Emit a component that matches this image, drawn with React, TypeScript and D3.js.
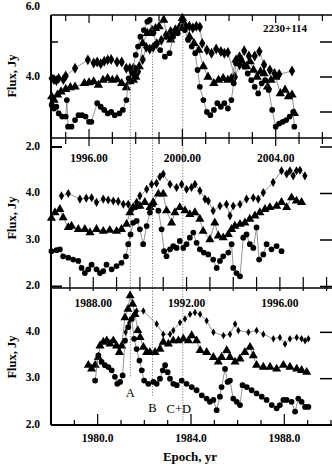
import React from 'react';
import * as d3 from 'd3';

// epoch (yr), flux (Jy)
const p1Diamonds: [number, number][] = [
  [1994.4, 3.96], [1994.5, 3.93], [1994.6, 3.9], [1994.7, 3.96], [1994.9, 3.93], [1995.0, 4.03],
  [1995.4, 4.25], [1995.95, 4.49], [1996.2, 4.4], [1996.35, 4.43], [1996.5, 4.38], [1996.65, 4.45],
  [1996.8, 4.49], [1996.95, 4.5], [1997.2, 4.43], [1997.4, 4.43], [1997.6, 4.25], [1997.75, 4.25],
  [1997.9, 4.25], [1998.0, 4.2], [1998.1, 4.15], [1998.3, 4.5], [1998.45, 4.85], [1998.6, 4.8],
  [1998.75, 4.85], [1998.9, 4.95], [1999.1, 5.05], [1999.3, 5.2], [1999.5, 5.3], [1999.7, 5.35],
  [1999.9, 5.45], [2000.1, 5.5], [2000.3, 5.45], [2000.45, 5.4], [2000.6, 5.45], [2000.75, 5.43],
  [2000.85, 4.96], [2001.05, 4.77], [2001.25, 4.68], [2001.45, 4.8], [2001.65, 4.73], [2001.8, 4.68],
  [2001.95, 4.7], [2002.25, 4.0], [2002.45, 4.35], [2002.65, 4.75], [2002.85, 4.6], [2003.1, 4.6],
  [2003.3, 4.73], [2003.5, 4.35], [2003.75, 4.2], [2003.95, 4.1], [2004.15, 4.08], [2004.7, 4.17],
];
const p1Triangles: [number, number][] = [
  [1994.4, 3.44], [1994.5, 3.34], [1994.65, 3.49], [1994.8, 3.58], [1995.0, 3.65], [1995.2, 3.7],
  [1995.4, 3.72], [1995.8, 3.82], [1996.0, 3.84], [1996.2, 3.87], [1996.4, 3.77], [1996.6, 3.91],
  [1996.8, 3.96], [1997.0, 3.91], [1997.2, 3.93], [1997.4, 3.82], [1997.6, 3.7], [1997.75, 3.87],
  [1997.9, 3.91], [1998.0, 4.0], [1998.15, 4.3], [1998.3, 4.96], [1998.5, 5.25], [1998.7, 5.34],
  [1998.85, 5.39], [1999.0, 5.44], [1999.2, 5.63], [1999.35, 5.15], [1999.5, 5.06], [1999.7, 5.3],
  [1999.85, 5.39], [2000.0, 5.68], [2000.15, 5.44], [2000.3, 5.15], [2000.5, 4.96], [2000.7, 4.77],
  [2000.9, 4.3], [2001.1, 4.0], [2001.35, 3.82], [2001.55, 3.91], [2001.75, 3.96], [2001.95, 3.91],
  [2002.1, 3.96], [2002.3, 4.49], [2002.45, 4.58], [2002.6, 4.39], [2002.75, 4.3], [2002.9, 4.44],
  [2003.05, 4.2], [2003.2, 4.0], [2003.35, 4.15], [2003.5, 4.1], [2003.65, 3.72], [2003.8, 3.91],
  [2004.0, 4.0], [2004.2, 3.53], [2004.4, 3.63], [2004.55, 3.44], [2004.7, 3.49], [2004.8, 2.96],
];
const p1Circles: [number, number][] = [
  [1994.4, 3.2], [1994.5, 3.1], [1994.6, 3.15], [1994.7, 2.96], [1994.85, 2.87], [1995.0, 2.87],
  [1995.05, 3.34], [1995.1, 2.58], [1995.25, 2.58], [1995.4, 2.77], [1995.55, 2.91], [1995.7, 2.91],
  [1995.85, 2.87], [1996.0, 2.72], [1996.1, 2.72], [1996.35, 3.25], [1996.5, 3.15], [1996.65, 3.06],
  [1996.8, 2.96], [1996.95, 3.0], [1997.1, 2.91], [1997.3, 2.96], [1997.45, 3.06], [1997.6, 3.34],
  [1997.7, 3.96], [1997.85, 4.1], [1998.0, 4.63], [1998.1, 4.87], [1998.2, 5.15], [1998.35, 5.34],
  [1998.5, 5.58], [1998.6, 5.63], [1998.75, 5.25], [1998.9, 4.96], [1999.05, 4.77], [1999.25, 4.58],
  [1999.45, 4.68], [1999.6, 5.15], [1999.8, 5.25], [2000.0, 5.63], [2000.1, 5.34], [2000.25, 5.06],
  [2000.4, 4.87], [2000.55, 4.68], [2000.65, 4.2], [2000.75, 3.72], [2000.9, 3.34], [2001.05, 3.0],
  [2001.2, 2.91], [2001.35, 3.06], [2001.5, 3.25], [2001.65, 3.15], [2001.8, 3.25], [2001.95, 3.1],
  [2002.1, 3.34], [2002.2, 3.82], [2002.3, 4.39], [2002.5, 4.49], [2002.65, 4.3], [2002.8, 4.1],
  [2002.95, 3.91], [2003.1, 3.72], [2003.25, 3.53], [2003.4, 3.82], [2003.55, 3.91], [2003.7, 3.63],
  [2003.85, 3.06], [2004.0, 2.58], [2004.15, 2.67], [2004.3, 2.72], [2004.45, 2.77], [2004.6, 2.87],
  [2004.75, 3.0], [2004.8, 2.58],
];

const p2Diamonds: [number, number][] = [
  [1986.64, 3.95], [1986.93, 4.0], [1987.43, 3.88], [1987.7, 3.9], [1987.93, 3.91], [1988.14, 3.81],
  [1988.43, 3.88], [1988.64, 3.86], [1988.86, 3.84], [1989.07, 3.83], [1989.29, 3.77], [1989.5, 3.77],
  [1989.64, 3.66], [1989.72, 3.7], [1989.86, 3.81], [1990.0, 3.95], [1990.29, 4.09], [1990.5, 4.2],
  [1990.71, 4.22], [1990.86, 4.36], [1991.0, 4.42], [1991.29, 4.2], [1991.57, 4.13], [1991.79, 4.2],
  [1992.0, 4.09], [1992.21, 4.13], [1992.36, 4.2], [1992.57, 4.06], [1992.79, 3.88], [1992.93, 3.84],
  [1993.14, 3.63], [1993.43, 3.73], [1993.71, 3.77], [1993.86, 3.52], [1994.0, 3.73], [1994.29, 3.77],
  [1994.57, 3.88], [1994.86, 3.91], [1995.07, 3.88], [1995.29, 4.02], [1995.71, 4.24], [1996.07, 4.49],
  [1996.29, 4.42], [1996.43, 4.49], [1996.57, 4.38], [1996.71, 4.49], [1996.86, 4.5], [1997.07, 4.38],
];
const p2Triangles: [number, number][] = [
  [1986.21, 3.47], [1986.36, 3.59], [1986.57, 3.66], [1986.71, 3.48], [1986.93, 3.27], [1987.07, 3.3],
  [1987.36, 3.23], [1987.64, 3.23], [1987.86, 3.16], [1988.14, 3.23], [1988.43, 3.19], [1988.71, 3.21],
  [1989.0, 3.19], [1989.21, 3.23], [1989.43, 3.34], [1989.57, 3.59], [1989.71, 3.7], [1989.86, 3.73],
  [1990.0, 3.73], [1990.21, 3.81], [1990.43, 3.7], [1990.57, 3.81], [1990.79, 3.99], [1991.0, 3.99],
  [1991.14, 3.63], [1991.36, 3.37], [1991.5, 3.59], [1991.71, 3.7], [1991.93, 3.63], [1992.14, 3.55],
  [1992.36, 3.59], [1992.57, 3.45], [1992.71, 3.19], [1993.0, 3.01], [1993.21, 3.37], [1993.36, 3.09],
  [1993.57, 3.05], [1993.79, 3.12], [1993.93, 3.23], [1994.07, 3.3], [1994.29, 3.34], [1994.5, 3.37],
  [1994.71, 3.45], [1994.93, 3.52], [1995.14, 3.59], [1995.36, 3.66], [1995.57, 3.7], [1995.86, 3.73],
  [1996.07, 3.81], [1996.29, 3.7], [1996.5, 3.91], [1996.71, 3.84], [1996.93, 3.81],
];
const p2Circles: [number, number][] = [
  [1986.21, 2.76], [1986.43, 2.78], [1986.57, 2.8], [1986.71, 2.65], [1986.93, 2.62], [1987.14, 2.58],
  [1987.36, 2.55], [1987.5, 2.4], [1987.64, 2.29], [1987.79, 2.37], [1987.93, 2.47], [1988.14, 2.37],
  [1988.29, 2.29], [1988.43, 2.33], [1988.57, 2.47], [1988.79, 2.37], [1989.0, 2.44], [1989.21, 2.51],
  [1989.4, 2.65], [1989.5, 2.91], [1989.6, 3.12], [1989.71, 3.37], [1989.86, 3.41], [1990.0, 3.23],
  [1990.14, 2.91], [1990.29, 3.3], [1990.43, 3.59], [1990.57, 3.77], [1990.79, 3.63], [1990.93, 3.23],
  [1991.04, 2.76], [1991.14, 2.65], [1991.29, 2.8], [1991.43, 2.87], [1991.57, 2.83], [1991.71, 2.98],
  [1991.86, 2.83], [1992.0, 2.91], [1992.14, 3.05], [1992.29, 3.16], [1992.43, 2.94], [1992.57, 2.8],
  [1992.74, 2.73], [1992.93, 2.69], [1993.14, 2.58], [1993.29, 2.4], [1993.43, 2.55], [1993.57, 2.65],
  [1993.79, 2.73], [1993.93, 2.91], [1994.0, 2.4], [1994.14, 2.29], [1994.29, 2.22], [1994.43, 3.05],
  [1994.57, 3.12], [1994.71, 2.91], [1994.86, 2.83], [1995.0, 3.27], [1995.11, 2.58], [1995.29, 2.69],
  [1995.43, 2.91], [1995.64, 2.8], [1995.86, 2.87], [1996.07, 2.76],
];

const p3Diamonds: [number, number][] = [
  [1981.2, 4.0], [1981.35, 4.2], [1981.53, 4.36], [1981.67, 4.46], [1981.96, 4.46], [1982.53, 4.18],
  [1982.81, 3.96], [1983.1, 3.96], [1983.24, 4.04], [1983.53, 4.21], [1983.74, 4.29], [1983.96, 4.39],
  [1984.17, 4.43], [1984.39, 4.39], [1984.67, 4.25], [1984.96, 4.0], [1985.39, 3.93], [1985.67, 3.96],
  [1985.89, 4.18], [1986.03, 4.04], [1986.46, 4.0], [1986.81, 4.04], [1987.1, 3.96], [1987.53, 3.86],
  [1987.81, 3.89], [1988.03, 3.75], [1988.24, 3.86], [1988.53, 3.89], [1988.74, 3.86], [1988.89, 3.82],
  [1989.03, 3.86],
];
const p3Triangles: [number, number][] = [
  [1979.6, 3.29], [1979.74, 3.21], [1979.89, 3.29], [1980.03, 3.46], [1980.1, 3.71], [1980.24, 3.79],
  [1980.39, 3.82], [1980.53, 3.75], [1980.67, 3.82], [1980.81, 3.71], [1980.93, 3.57], [1981.03, 3.71],
  [1981.17, 4.32], [1981.3, 4.5], [1981.39, 4.79], [1981.5, 4.61], [1981.6, 4.39], [1981.72, 4.04],
  [1981.82, 3.89], [1981.96, 3.68], [1982.1, 3.57], [1982.24, 3.57], [1982.46, 3.57], [1982.67, 3.64],
  [1982.81, 3.79], [1983.03, 3.75], [1983.24, 3.82], [1983.46, 3.82], [1983.67, 3.86], [1983.89, 3.82],
  [1984.03, 3.93], [1984.24, 3.82], [1984.39, 3.61], [1984.67, 3.57], [1984.96, 3.46], [1985.17, 3.36],
  [1985.31, 3.46], [1985.53, 3.61], [1985.67, 3.46], [1985.89, 3.36], [1986.1, 3.43], [1986.31, 3.57],
  [1986.53, 3.68], [1986.67, 3.5], [1986.81, 3.29], [1987.1, 3.25], [1987.39, 3.25], [1987.67, 3.21],
  [1987.96, 3.29], [1988.24, 3.25], [1988.53, 3.21], [1988.74, 3.18], [1988.96, 3.14],
];
const p3Circles: [number, number][] = [
  [1979.89, 2.96], [1980.03, 3.5], [1980.17, 3.36], [1980.31, 3.29], [1980.46, 3.25], [1980.6, 3.18],
  [1980.74, 3.04], [1980.84, 2.89], [1980.96, 2.93], [1981.07, 3.07], [1981.17, 3.82], [1981.31, 4.11],
  [1981.46, 4.29], [1981.56, 3.86], [1981.67, 3.64], [1981.79, 3.39], [1981.89, 3.18], [1981.99, 2.96],
  [1982.17, 2.89], [1982.39, 2.93], [1982.53, 2.89], [1982.67, 3.0], [1982.79, 3.18], [1982.89, 3.29],
  [1983.0, 3.14], [1983.1, 3.0], [1983.24, 2.89], [1983.39, 2.86], [1983.6, 2.96], [1983.81, 2.89],
  [1984.03, 2.82], [1984.24, 2.75], [1984.46, 2.64], [1984.67, 2.57], [1984.81, 2.5], [1984.96, 2.54],
  [1985.1, 2.32], [1985.24, 2.61], [1985.31, 2.82], [1985.46, 3.21], [1985.57, 2.93], [1985.67, 2.96],
  [1985.81, 2.57], [1985.96, 2.5], [1986.1, 2.43], [1986.21, 2.86], [1986.39, 2.82], [1986.6, 2.75],
  [1986.81, 2.68], [1987.03, 2.61], [1987.24, 2.54], [1987.46, 2.43], [1987.67, 2.36], [1987.81, 2.43],
  [1987.96, 2.54], [1988.1, 2.54], [1988.31, 2.5], [1988.46, 2.29], [1988.6, 2.57], [1988.74, 2.5],
  [1988.89, 2.39], [1989.03, 2.39],
];

const p1XLabels = [1996, 2000, 2004];
const p2XLabels = [1988, 1992, 1996];
const p3XLabels = [1980, 1984, 1988];
const sourceName = '2230+114';
const flareNames = ['A', 'B', 'C+D'];
const flareEpochs = [1981.4, 1982.35, 1983.65]; // on the 1978-1990 scale

const FONT = '"Liberation Serif", "DejaVu Serif", serif';
const L = 51;
const R = 331;

const x1 = d3.scaleLinear().domain([1994.37, 2006.37]).range([L, R]);
const y1 = d3.scaleLinear().domain([2, 6]).range([147, 7]);
const x2 = d3.scaleLinear().domain([1986.19, 1998.19]).range([L, R]);
const y2 = d3.scaleLinear().domain([2, 5]).range([286.5, 147]);
const x3 = d3.scaleLinear().domain([1978, 1990]).range([L, R]);
const y3 = d3.scaleLinear().domain([2, 5]).range([425, 286]);

type Scale = d3.ScaleLinear<number, number>;

function Series({ data, x, y, shape, size }: { data: [number, number][]; x: Scale; y: Scale; shape: d3.SymbolType; size: number }) {
  const line = d3.line<[number, number]>().x((d) => x(d[0])).y((d) => y(d[1]));
  const sym = d3.symbol().type(shape).size(size)() || '';
  return (
    <g>
      <path d={line(data) || ''} fill="none" stroke="#666" strokeWidth={0.7} />
      {data.map((d, i) => (
        <path key={i} d={sym} transform={`translate(${x(d[0])},${y(d[1])})`} fill="#000" />
      ))}
    </g>
  );
}

function years(x: Scale) {
  const [a, b] = x.domain();
  return d3.range(Math.ceil(a), Math.floor(b) + 1);
}

export default function App() {
  const labelStyle = { fontFamily: FONT, fontWeight: 700, fontSize: 11.5 } as const;
  const yLab = (txt: string, yy: number, k: string) => (
    <text key={k} x={40} y={yy} textAnchor="end" dominantBaseline="middle" style={labelStyle}>{txt}</text>
  );
  const rightTick = (yy: number, k: string) => <line key={k} x1={320} x2={332} y1={yy} y2={yy} stroke="#000" strokeWidth={1.5} />;
  const leftTick2 = (yy: number, k: string) => <line key={k} x1={L} x2={62} y1={yy} y2={yy} stroke="#000" strokeWidth={2} />;

  return (
    <svg width={332} height={470} style={{ position: 'absolute', left: 0, top: 0, background: '#fff' }}>
      {/* flare lines */}
      {flareEpochs.map((e, i) => {
        const xx = x3(e);
        const tops = [y1(3.8), y1(4.69), y1(5.26)];
        const bots = [y3(3.04), y3(2.62), y3(2.1)];
        return <line key={i} x1={xx} x2={xx} y1={tops[i]} y2={bots[i]} stroke="#444" strokeWidth={0.7} strokeDasharray="1.2,1.6" />;
      })}

      {/* panel 1 */}
      <Series data={p1Diamonds} x={x1} y={y1} shape={d3.symbolDiamond} size={34} />
      <Series data={p1Triangles} x={x1} y={y1} shape={d3.symbolTriangle} size={38} />
      <Series data={p1Circles} x={x1} y={y1} shape={d3.symbolCircle} size={26} />
      {/* panel 2 */}
      <Series data={p2Diamonds} x={x2} y={y2} shape={d3.symbolDiamond} size={24} />
      <Series data={p2Triangles} x={x2} y={y2} shape={d3.symbolTriangle} size={36} />
      <Series data={p2Circles} x={x2} y={y2} shape={d3.symbolCircle} size={26} />
      {/* panel 3 */}
      <Series data={p3Diamonds} x={x3} y={y3} shape={d3.symbolDiamond} size={16} />
      <Series data={p3Triangles} x={x3} y={y3} shape={d3.symbolTriangle} size={36} />
      <Series data={p3Circles} x={x3} y={y3} shape={d3.symbolCircle} size={26} />

      {/* frame */}
      <line x1={L} x2={L} y1={15} y2={425} stroke="#000" strokeWidth={2} />
      <line x1={L} x2={332} y1={15} y2={15} stroke="#000" strokeWidth={1.5} />
      <line x1={L} x2={332} y1={138} y2={138} stroke="#000" strokeWidth={1.5} />
      <line x1={L} x2={332} y1={288} y2={288} stroke="#000" strokeWidth={1.5} />
      <line x1={L} x2={332} y1={425} y2={425} stroke="#000" strokeWidth={2} />

      {/* x ticks */}
      {years(x1).map((yr) => {
        const major = p1XLabels.includes(yr);
        return (
          <g key={`t1-${yr}`}>
            <line x1={x1(yr)} x2={x1(yr)} y1={15} y2={major ? 23 : 21} stroke="#000" strokeWidth={1.2} />
            <line x1={x1(yr)} x2={x1(yr)} y1={major ? 129 : 132} y2={major ? 146 : 144} stroke="#000" strokeWidth={1.2} />
          </g>
        );
      })}
      {years(x2).map((yr) => (
        <line key={`t2-${yr}`} x1={x2(yr)} x2={x2(yr)} y1={277} y2={291} stroke="#000" strokeWidth={1.2} />
      ))}
      {years(x3).map((yr) => {
        const major = p3XLabels.includes(yr);
        return <line key={`t3-${yr}`} x1={x3(yr)} x2={x3(yr)} y1={major ? 414 : 420} y2={425} stroke="#000" strokeWidth={1.2} />;
      })}

      {/* y ticks */}
      <line x1={L} x2={58} y1={y1(5)} y2={y1(5)} stroke="#000" strokeWidth={1.5} />
      {[y1(2), y2(2), y3(2)].map((yy, i) => leftTick2(yy, `l${i}`))}
      {[5, 4, 3, 2].map((v) => rightTick(y1(v), `r1${v}`))}
      {[4, 3, 2].map((v) => rightTick(y2(v), `r2${v}`))}
      {[4, 3].map((v) => rightTick(y3(v), `r3${v}`))}

      {/* y labels */}
      {[6, 4, 2].map((v) => yLab(v.toFixed(1), y1(v), `a${v}`))}
      {[4, 3, 2].map((v) => yLab(v.toFixed(1), y2(v), `b${v}`))}
      {[4, 3, 2].map((v) => yLab(v.toFixed(1), y3(v), `c${v}`))}

      {/* x labels */}
      {p1XLabels.map((v) => (
        <text key={`x1${v}`} x={x1(v)} y={162} textAnchor="middle" style={labelStyle}>{v.toFixed(2)}</text>
      ))}
      {p2XLabels.map((v) => (
        <text key={`x2${v}`} x={x2(v)} y={307} textAnchor="middle" style={labelStyle}>{v.toFixed(2)}</text>
      ))}
      {p3XLabels.map((v) => (
        <text key={`x3${v}`} x={x3(v)} y={442} textAnchor="middle" style={labelStyle}>{v.toFixed(1)}</text>
      ))}

      {/* axis titles */}
      {[76, 218, 357].map((cy, i) => (
        <text key={`ft${i}`} transform={`translate(16,${cy}) rotate(-90)`} textAnchor="middle"
          style={{ fontFamily: FONT, fontWeight: 700, fontSize: 12.5 }}>Flux, Jy</text>
      ))}
      <text x={190} y={461} textAnchor="middle" style={{ fontFamily: FONT, fontWeight: 700, fontSize: 13 }}>Epoch, yr</text>

      <text x={285} y={32} textAnchor="middle" style={{ fontFamily: FONT, fontWeight: 700, fontSize: 11 }}>{sourceName}</text>

      {flareNames.map((n, i) => {
        const ys = [397, 412, 413];
        const dx = [0, 0, -4];
        return (
          <text key={n} x={x3(flareEpochs[i]) + dx[i]} y={ys[i]} textAnchor="middle"
            style={{ fontFamily: FONT, fontWeight: 400, fontSize: 12.5 }}>{n}</text>
        );
      })}
    </svg>
  );
}
